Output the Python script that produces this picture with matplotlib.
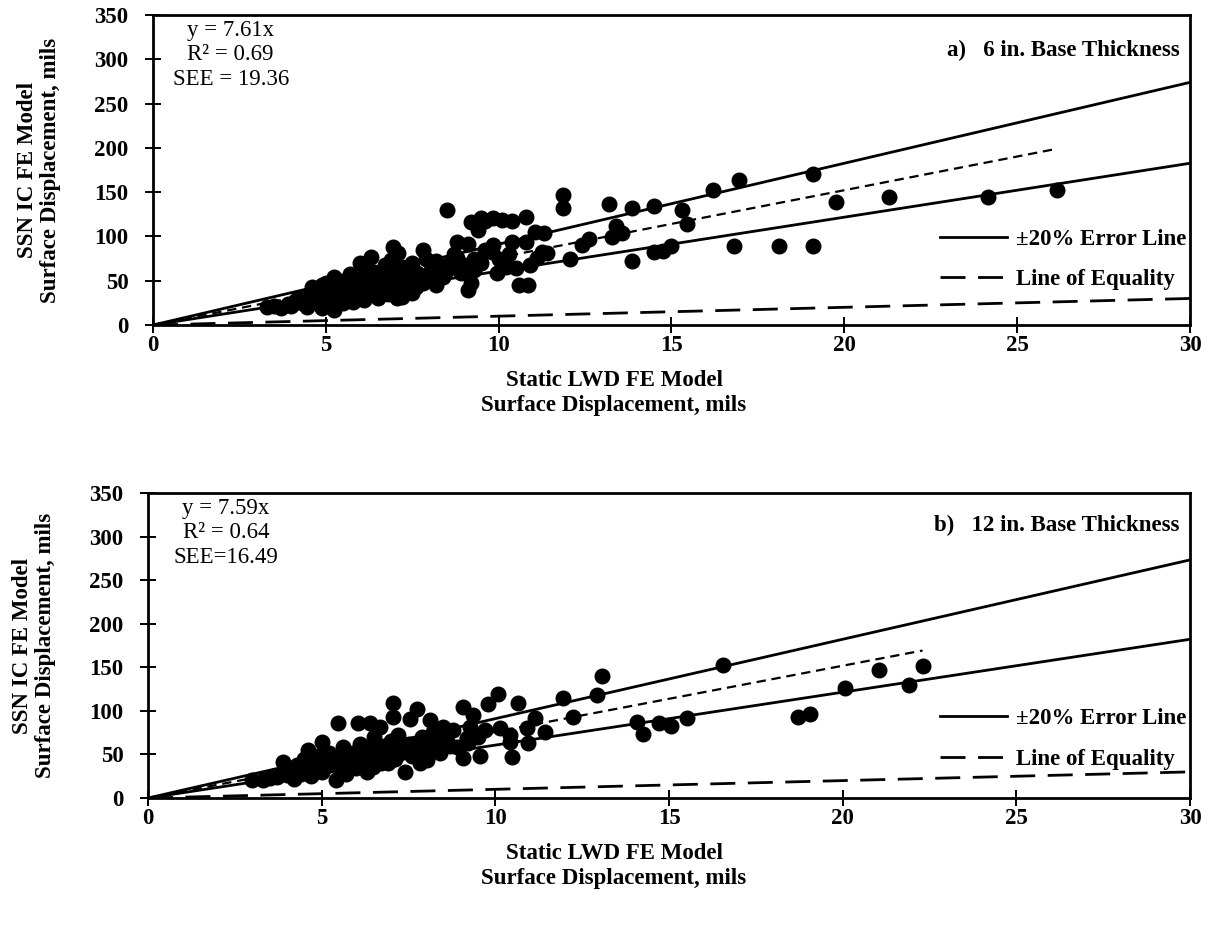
import numpy as np
import matplotlib
matplotlib.use('Agg')
import matplotlib.pyplot as plt
from matplotlib.lines import Line2D

plt.rcParams['font.family'] = ['Liberation Serif', 'DejaVu Serif']

# ---- data ----
# a) 6 in. base thickness
x_a = [3.3, 3.5, 3.7, 3.9, 4.0, 4.1, 4.2, 4.3, 4.45, 4.5, 4.6, 4.6, 4.7, 4.8, 4.9,
       4.9, 5.0, 5.0, 5.1, 5.1, 5.2, 5.25, 5.25, 5.3, 5.4, 5.4, 5.5, 5.5, 5.6, 5.7,
       5.7, 5.8, 5.8, 5.9, 6.0, 6.0, 6.1, 6.1, 6.2, 6.3, 6.3, 6.3, 6.4, 6.5, 6.5,
       6.6, 6.65, 6.7, 6.8, 6.9, 6.9, 6.95, 7.0, 7.05, 7.1, 7.1, 7.2, 7.2, 7.3, 7.4,
       7.5, 7.6, 7.65, 7.7, 7.8, 7.8, 7.9, 8.0, 8.1, 8.2, 8.2, 8.4, 8.5, 8.5, 8.6,
       8.7, 8.8, 8.9, 9.0, 9.1, 9.1, 9.2, 9.2, 9.3, 9.4, 9.5, 9.5, 9.6, 9.6, 9.85,
       9.85, 9.95, 10.1, 10.0, 10.2, 10.4, 10.4, 10.5, 10.6, 10.8, 10.8, 10.85, 10.9,
       11.05, 11.25, 11.3, 11.4, 11.86, 11.86, 12.06, 12.4, 12.6, 13.2, 13.28, 13.4,
       13.57, 13.86, 13.86, 14.5, 14.5, 14.75, 15.0, 15.3, 15.45, 16.2, 16.8, 16.95,
       18.1, 19.1, 19.1, 19.76, 21.3, 24.15, 26.15,
       5.6, 6.2, 6.8, 7.4, 7.9, 8.3, 8.8, 9.3, 9.8, 10.3, 11.1, 6.0, 7.5]
y_a = [20, 22, 19, 24, 21, 27, 31, 25, 20, 34, 28, 43, 38, 24, 19,
       45, 30, 48, 36, 40, 22, 17, 54, 28, 45, 33, 50, 25, 38, 58,
       42, 26, 47, 33, 52, 40, 65, 28, 45, 77, 35, 55, 60, 30, 48,
       40, 59, 68, 35, 73, 52, 88, 45, 30, 81, 62, 32, 66, 50, 40,
       70, 43, 59, 55, 85, 48, 75, 60, 66, 45, 72, 54, 130, 62, 70,
       80, 94, 59, 68, 92, 40, 47, 116, 75, 107, 121, 70, 85, 118, 121,
       90, 59, 119, 75, 65, 118, 94, 64, 45, 122, 94, 45, 68,
       105, 82, 104, 81, 147, 132, 75, 90, 97, 137, 99, 112,
       104, 132, 72, 134, 82, 84, 89, 130, 114, 152, 89, 164,
       89, 171, 89, 139, 145, 145, 152,
       30, 36, 58, 62, 52, 64, 76, 62, 82, 80, 76, 70, 36]

# b) 12 in. base thickness
x_b = [3.0, 3.3, 3.5, 3.7, 3.9, 3.9, 4.0, 4.1, 4.2, 4.3, 4.4, 4.5, 4.55, 4.6, 4.7,
       4.8, 4.9, 5.0, 5.0, 5.1, 5.2, 5.3, 5.4, 5.45, 5.47, 5.5, 5.6, 5.7, 5.8, 5.9,
       6.0, 6.05, 6.1, 6.2, 6.3, 6.39, 6.4, 6.48, 6.5, 6.6, 6.68, 6.8, 6.9, 6.97,
       7.0, 7.05, 7.05, 7.1, 7.2, 7.3, 7.4, 7.5, 7.54, 7.6, 7.75, 7.75, 7.83, 7.9,
       8.0, 8.03, 8.12, 8.2, 8.3, 8.4, 8.41, 8.5, 8.6, 8.78, 8.9, 9.07, 9.07, 9.18,
       9.2, 9.27, 9.36, 9.56, 9.7, 9.79, 10.08, 10.13, 10.42, 10.42, 10.48, 10.65,
       10.9, 10.94, 11.14, 11.43, 11.95, 12.24, 12.93, 13.07, 14.08, 14.25, 14.71,
       15.06, 15.52, 16.56, 18.72, 19.06, 20.07, 21.05, 21.9, 22.3,
       4.4, 4.8, 5.2, 5.6, 6.2, 6.7, 7.2, 7.7, 8.2, 8.7, 9.5]
y_b = [21, 21, 23, 24, 30, 41, 26, 35, 22, 38, 28, 45, 32, 55, 25,
       40, 48, 64, 30, 36, 52, 43, 21, 47, 86, 33, 58, 28, 40, 52,
       35, 86, 62, 45, 30, 86, 55, 36, 70, 48, 81, 60, 40, 52,
       66, 109, 93, 45, 72, 56, 30, 62, 91, 48, 102, 63, 40, 70,
       55, 44, 89, 76, 60, 70, 52, 81, 65, 78, 58, 104, 46, 69,
       63, 81, 95, 48, 78, 108, 119, 80, 72, 64, 47, 109,
       80, 63, 92, 76, 115, 93, 118, 140, 87, 73, 86,
       83, 92, 153, 93, 96, 126, 147, 130, 151,
       34, 30, 38, 42, 58, 40, 50, 56, 66, 60, 70]

slope_a, r2_a, see_a = 7.61, 0.69, 19.36
slope_b, r2_b, see_b = 7.59, 0.64, 16.49

x_ticks = [0, 5, 10, 15, 20, 25, 30]
y_ticks = [0, 50, 100, 150, 200, 250, 300, 350]

FS = 16.5


def panel(ax, x, y, slope, stats, title, title_y, leg_y, xl_y):
    xl = np.array([0, 30])
    # +/-20 % error lines and equality line
    ax.plot(xl, 1.2 * slope * xl, color='k', lw=2, zorder=2)
    ax.plot(xl, 0.8 * slope * xl, color='k', lw=2, zorder=2)
    ax.plot(xl, xl, color='k', lw=2, dashes=(9, 4.5), zorder=2)
    # fitted line up to largest x
    xf = np.array([0, max(x)])
    ax.plot(xf, slope * xf, color='k', lw=1.6, dashes=(4.2, 2.6), zorder=2)
    ax.plot(x, y, 'o', color='k', ms=10.5, zorder=3)

    ax.set_xlim(0, 30)
    ax.set_ylim(0, 350)
    ax.set_xticks(x_ticks)
    ax.set_yticks(y_ticks)
    ax.tick_params(direction='inout', length=11, width=1.4, labelsize=FS)
    ax.tick_params(axis='x', pad=2)
    ax.tick_params(axis='y', pad=12)
    for lab in ax.get_xticklabels() + ax.get_yticklabels():
        lab.set_fontweight('bold')
    for s in ax.spines.values():
        s.set_linewidth(2)

    ax.text(0.075, 0.985, stats, transform=ax.transAxes, ha='center', va='top',
            fontsize=FS, linespacing=1.22)
    ax.text(0.99, title_y, title, transform=ax.transAxes, ha='right', va='center',
            fontsize=FS, fontweight='bold')
    ax.set_ylabel('SSN IC FE Model\nSurface Displacement, mils', fontsize=FS,
                  fontweight='bold', labelpad=24, linespacing=1.1)

    handles = [Line2D([], [], color='k', lw=2),
               Line2D([], [], color='k', lw=2, dashes=(9, 4.5))]
    ax.legend(handles, ['\u00b120% Error Line', 'Line of Equality'],
              loc='lower right', bbox_to_anchor=(1.005, leg_y), frameon=False,
              prop={'size': FS, 'weight': 'bold'}, handlelength=2.9,
              handletextpad=0.4, labelspacing=0.86, borderaxespad=0)

    fig.text(614 / 1211, xl_y, 'Static LWD FE Model\nSurface Displacement, mils',
             ha='center', va='center', fontsize=FS, fontweight='bold',
             linespacing=1.25)


fig = plt.figure(figsize=(12.11, 9.26), dpi=100)
ax1 = fig.add_axes([0.1263, 0.649, 0.8564, 0.3348])
ax2 = fig.add_axes([0.1222, 0.1382, 0.8605, 0.3294])

panel(ax1, x_a, y_a, slope_a,
      'y = %.2fx\nR\u00b2 = %.2f\nSEE = %.2f' % (slope_a, r2_a, see_a),
      'a)   6 in. Base Thickness', 0.887, 0.082, 1 - 393 / 926)
panel(ax2, x_b, y_b, slope_b,
      'y = %.2fx\nR\u00b2 = %.2f\nSEE=%.2f' % (slope_b, r2_b, see_b),
      'b)   12 in. Base Thickness', 0.895, 0.062, 1 - 866 / 926)

fig.savefig('out.png', dpi=100)
